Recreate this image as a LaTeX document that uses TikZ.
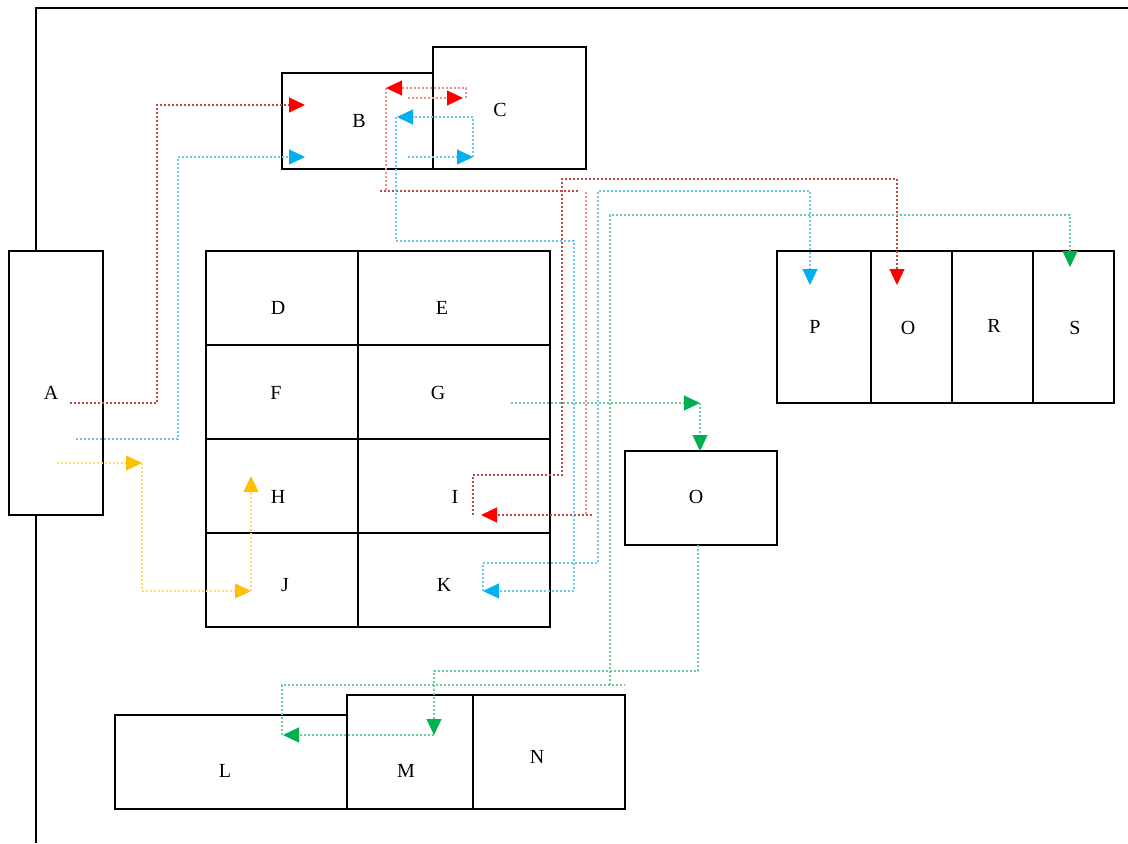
\documentclass[tikz,border=0pt]{standalone}
\usepackage{fontspec}
\setmainfont{Liberation Serif}
\usetikzlibrary{arrows.meta}

% arrowhead colours
\definecolor{tipred}{HTML}{FF0000}
\definecolor{tipcyan}{HTML}{00B0F0}
\definecolor{tipgreen}{HTML}{00B050}
\definecolor{tipyellow}{HTML}{FFC000}
% connector colours
\definecolor{lnred}{HTML}{C04848}
\definecolor{lnpink}{HTML}{F48A8A}
\definecolor{lncyan}{HTML}{6CC8F0}
\definecolor{lngreen}{HTML}{6CCC98}
\definecolor{lnyellow}{HTML}{FFD878}

\begin{document}
\begin{tikzpicture}[x=0.75pt,y=-0.75pt,
  box/.style={draw, line width=1.3pt, fill=white, inner sep=0pt},
  lbl/.style={inner sep=0pt, font=\fontsize{15}{18}\selectfont},
  frame/.style={line width=1.3pt},
  link/.style={line width=0.8pt, dash pattern=on 1.5pt off 1.5pt},
  rtip/.style={-{Triangle[length=12pt,width=11.25pt,color=tipred,fill=tipred]}},
  ctip/.style={-{Triangle[length=12pt,width=11.25pt,color=tipcyan,fill=tipcyan]}},
  gtip/.style={-{Triangle[length=12pt,width=11.25pt,color=tipgreen,fill=tipgreen]}},
  ytip/.style={-{Triangle[length=12pt,width=11.25pt,color=tipyellow,fill=tipyellow]}}]
\useasboundingbox (0,0) rectangle (1128,843);

% outer frame
\draw[frame] (36,843) -- (36,8) -- (1128,8);

% boxes
\node[box, minimum width=70.5pt, minimum height=198pt] (A) at (56,383) {};
\node[box, minimum width=114pt, minimum height=72pt] (B) at (358,121) {};
\node[box, minimum width=114.75pt, minimum height=91.5pt] (C) at (509.5,108) {};

\node[box, minimum width=114pt, minimum height=70.5pt] (D) at (282,298) {};
\node[box, minimum width=144pt, minimum height=70.5pt] (E) at (454,298) {};
\node[box, minimum width=114pt, minimum height=70.5pt] (F) at (282,392) {};
\node[box, minimum width=144pt, minimum height=70.5pt] (G) at (454,392) {};
\node[box, minimum width=114pt, minimum height=70.5pt] (H) at (282,486) {};
\node[box, minimum width=144pt, minimum height=70.5pt] (I) at (454,486) {};
\node[box, minimum width=114pt, minimum height=70.5pt] (J) at (282,580) {};
\node[box, minimum width=144pt, minimum height=70.5pt] (K) at (454,580) {};

\node[box, minimum width=114pt, minimum height=70.5pt] (O) at (701,498) {};

\node[box, minimum width=70.5pt, minimum height=114pt] (P) at (824,327) {};
\node[box, minimum width=60.75pt, minimum height=114pt] (Q) at (911.5,327) {};
\node[box, minimum width=60.75pt, minimum height=114pt] (R) at (992.5,327) {};
\node[box, minimum width=60.75pt, minimum height=114pt] (S) at (1073.5,327) {};

\node[box, minimum width=174pt, minimum height=70.5pt] (L) at (231,762) {};
\node[box, minimum width=94.5pt, minimum height=85.5pt] (M) at (410,752) {};
\node[box, minimum width=114pt, minimum height=85.5pt] (N) at (549,752) {};

% labels
\node[lbl] (tA) at (51,393) {A};
\node[lbl] (tB) at (359,121) {B};
\node[lbl] (tC) at (500,110) {C};
\node[lbl] (tD) at (278,308) {D};
\node[lbl] (tE) at (442,308) {E};
\node[lbl] (tF) at (276,393) {F};
\node[lbl] (tG) at (438,393) {G};
\node[lbl] (tH) at (278,497) {H};
\node[lbl] (tI) at (455,497) {I};
\node[lbl] (tJ) at (285,585) {J};
\node[lbl] (tK) at (444,585) {K};
\node[lbl] (tO) at (696,497) {O};
\node[lbl] (tP) at (815,327) {P};
\node[lbl] (tQ) at (908,328) {O};
\node[lbl] (tR) at (994,326) {R};
\node[lbl] (tS) at (1075,328) {S};
\node[lbl] (tL) at (225,771) {L};
\node[lbl] (tM) at (406,771) {M};
\node[lbl] (tN) at (537,757) {N};

% connector end points
\coordinate (aR) at (70,403);
\coordinate (aC) at (76,439);
\coordinate (aY) at (57,463);
\coordinate (bR) at (305,105);
\coordinate (bC) at (305,157);
\coordinate (bR2) at (408,98);
\coordinate (cR) at (463,98);
\coordinate (cR2) at (466,98);
\coordinate (bR3) at (386,88);
\coordinate (bC2) at (408,157);
\coordinate (cC) at (473,157);
\coordinate (bC3) at (397,117);
\coordinate (iR) at (481,515);
\coordinate (iR2) at (473,515);
\coordinate (qR) at (897,285);
\coordinate (kC) at (483,591);
\coordinate (pC) at (810,285);
\coordinate (gG) at (511,403);
\coordinate (gG2) at (700,403);
\coordinate (oG) at (700,451);
\coordinate (oG2) at (698,545);
\coordinate (mG) at (434,735);
\coordinate (lG) at (283,735);
\coordinate (lG2) at (282,735);
\coordinate (sG) at (1070,267);
\coordinate (yA) at (142,463);
\coordinate (jY) at (251,591);
\coordinate (hY) at (251,476);

% red connectors
\draw[link, lnred, rtip] (aR) -- (157,403) -- (157,105) -- (bR);
\draw[link, lnpink, rtip] (bR2) -- (cR);
\draw[link, lnpink, rtip] (cR2) -- (466,88) -- (bR3);
\draw[link, lnpink] (bR3) -- (386,191);
\draw[link, lnred] (380,191) -- (580,191);
\draw[link, lnpink] (586,192) -- (586,515);
\draw[link, lnred, rtip] (592,515) -- (iR);
\draw[link, lnred, rtip] (iR2) -- (473,475) -- (562,475) -- (562,179) -- (897,179) -- (qR);

% cyan connectors
\draw[link, lncyan, ctip] (aC) -- (178,439) -- (178,157) -- (bC);
\draw[link, lncyan, ctip] (bC2) -- (cC);
\draw[link, lncyan, ctip] (cC) -- (473,117) -- (bC3);
\draw[link, lncyan, ctip] (396,117) -- (396,241) -- (574,241) -- (574,591) -- (kC);
\draw[link, lncyan, ctip] (kC) -- (483,563) -- (598,563) -- (598,191) -- (810,191) -- (pC);

% green connectors
\draw[link, lngreen, gtip] (gG) -- (gG2);
\draw[link, lngreen, gtip] (gG2) -- (oG);
\draw[link, lngreen, gtip] (oG2) -- (698,671) -- (434,671) -- (mG);
\draw[link, lngreen, gtip] (mG) -- (lG);
\draw[link, lngreen] (lG2) -- (282,685) -- (625,685);
\draw[link, lngreen, gtip] (610,685) -- (610,215) -- (1070,215) -- (sG);

% yellow connectors
\draw[link, lnyellow, ytip] (aY) -- (yA);
\draw[link, lnyellow, ytip] (yA) -- (142,591) -- (jY);
\draw[link, lnyellow, ytip] (jY) -- (hY);
\end{tikzpicture}
\end{document}
